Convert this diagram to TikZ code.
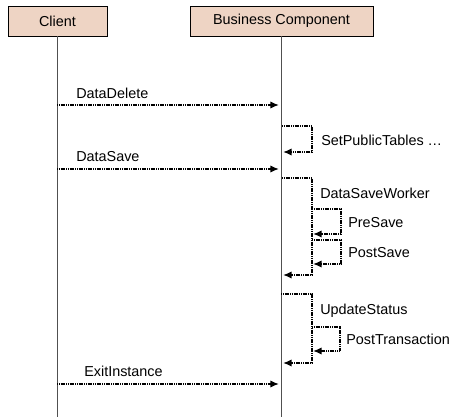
\documentclass[tikz,border=0pt]{standalone}
\usepackage{fontspec}
\setmainfont{Liberation Sans}
\usetikzlibrary{arrows.meta,positioning}
\definecolor{BoxFill}{RGB}{238,212,196}
\definecolor{LifeGray}{RGB}{80,80,80}

\begin{document}
\begin{tikzpicture}[x=0.75pt,y=-0.75pt,>={Latex[length=6.5pt,width=5.5pt]},
    actor/.style={draw,fill=BoxFill,line width=0.7pt,minimum height=22.5pt,inner sep=0pt,
      font=\fontsize{10.8}{12}\selectfont},
    life/.style={LifeGray,line width=0.7pt},
    msg/.style={->,line width=1.2pt,dash pattern=on 0.9pt off 0.45pt},
    lbl/.style={anchor=west,inner sep=0pt,font=\fontsize{10.8}{12}\selectfont}]
  \useasboundingbox (0,0) rectangle (457,417);
  % actors
  \node[actor,minimum width=74.25pt] (client) at (57.5,21) {Client};
  \node[actor,minimum width=137.25pt] (bc) at (281.5,21) {Business Component};
  \coordinate (clientEnd) at (57,417);
  \coordinate (bcEnd) at (281,417);
  \draw[life] (client.south -| clientEnd) -- (clientEnd);
  \draw[life] (bc.south -| bcEnd) -- (bcEnd);
  % DataDelete
  \coordinate (delA) at (57,105);
  \coordinate (delB) at (279,105);
  \draw[msg] (delA) -- (delB);
  \node[lbl] (delL) at (76,93) {DataDelete};
  % SetPublicTables
  \coordinate (sptA) at (282,126);
  \coordinate (sptB) at (283,152);
  \draw[msg] (sptA) -- ++(30,0) |- (sptB);
  \node[lbl] (sptL) at (321,140) {SetPublicTables \dots};
  % DataSave
  \coordinate (saveA) at (57,169);
  \coordinate (saveB) at (279,169);
  \draw[msg] (saveA) -- (saveB);
  \node[lbl] (saveL) at (76,157) {DataSave};
  % DataSaveWorker
  \coordinate (dswA) at (282,178);
  \coordinate (dswB) at (283,275);
  \draw[msg] (dswA) -- ++(30,0) |- (dswB);
  \node[lbl] (dswL) at (320,193) {DataSaveWorker};
  \coordinate (preA) at (312,209);
  \coordinate (preB) at (313,234);
  \draw[msg] (preA) -- ++(29,0) |- (preB);
  \node[lbl] (preL) at (348,223) {PreSave};
  \coordinate (postA) at (312,240);
  \coordinate (postB) at (313,264);
  \draw[msg] (postA) -- ++(29,0) |- (postB);
  \node[lbl] (postL) at (348,253) {PostSave};
  % UpdateStatus
  \coordinate (updA) at (281,294);
  \coordinate (updB) at (283,363);
  \draw[msg] (updA) -- ++(31,0) |- (updB);
  \node[lbl] (updL) at (320,311) {UpdateStatus};
  \coordinate (ptA) at (312,327);
  \coordinate (ptB) at (313,351);
  \draw[msg] (ptA) -- ++(28,0) |- (ptB);
  \node[lbl] (ptL) at (346,339) {PostTransaction};
  % ExitInstance
  \coordinate (exA) at (57,384);
  \coordinate (exB) at (279,384);
  \draw[msg] (exA) -- (exB);
  \node[lbl] (exL) at (84,371) {ExitInstance};
\end{tikzpicture}
\end{document}
